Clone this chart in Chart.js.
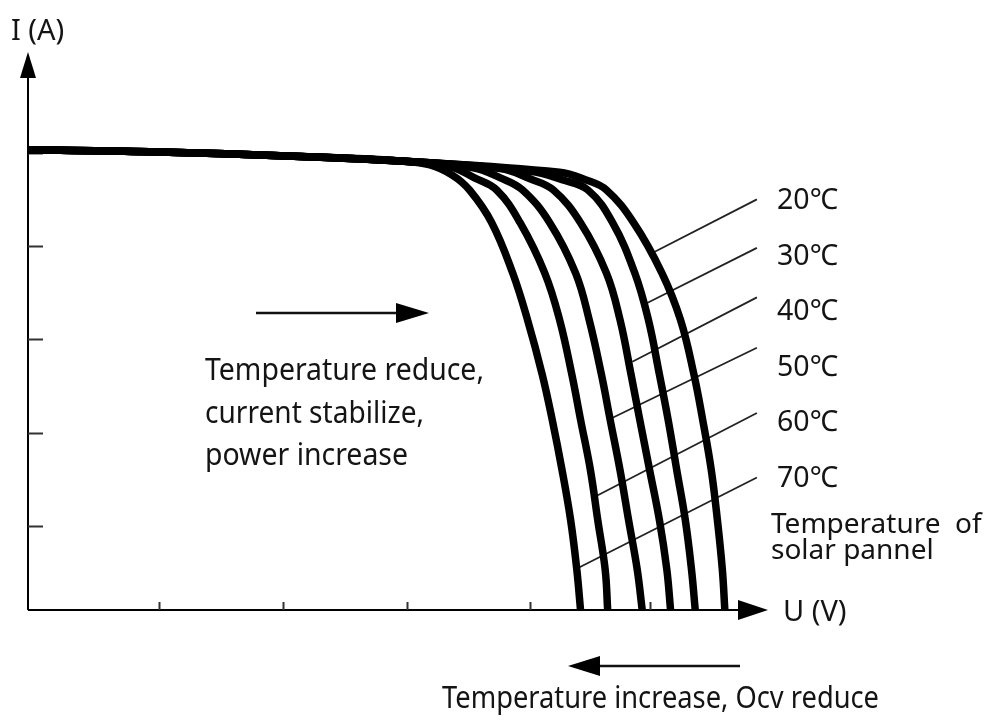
<!DOCTYPE html>
<html lang="en">
<head>
    <meta charset="UTF-8">
    <title>I-V curves vs temperature</title>
    <script src="https://cdn.jsdelivr.net/npm/chart.js"></script>
    <style>
        body { margin: 0; background: #fff; }
        #wrap { width: 992px; height: 721px; position: relative; }
    </style>
</head>
<body>
    <div id="wrap"><canvas id="ivChart"></canvas></div>

    <script>
        // temperatures of the panel, one curve each
        const temps = ['20℃', '30℃', '40℃', '50℃', '60℃', '70℃'];

        // voltage (U) and current (I), per curve
        const u20 = [0, 0.99, 2.21, 3.02, 4.31, 4.52, 4.69, 4.91, 5.14, 5.29, 5.40, 5.47, 5.54, 5.59, 5.63, 5.65];
        const i20 = [4.93, 4.91, 4.86, 4.81, 4.69, 4.61, 4.50, 4.15, 3.61, 3.11, 2.52, 2.04, 1.50, 0.96, 0.43, 0];
        const u30 = [0, 0.99, 2.21, 3.02, 4.07, 4.33, 4.54, 4.74, 4.92, 5.03, 5.12, 5.19, 5.26, 5.33, 5.38, 5.41];
        const i30 = [4.93, 4.91, 4.86, 4.81, 4.70, 4.61, 4.50, 4.15, 3.61, 3.11, 2.52, 2.04, 1.50, 0.96, 0.43, 0];
        const u40 = [0, 0.99, 2.21, 3.02, 3.83, 4.07, 4.26, 4.48, 4.69, 4.80, 4.89, 4.96, 5.04, 5.12, 5.18, 5.21];
        const i40 = [4.93, 4.91, 4.86, 4.81, 4.73, 4.62, 4.50, 4.15, 3.61, 3.11, 2.52, 2.04, 1.50, 0.96, 0.43, 0];
        const u50 = [0, 0.99, 2.21, 3.02, 3.60, 3.83, 4.01, 4.23, 4.44, 4.55, 4.65, 4.72, 4.80, 4.87, 4.94, 4.98];
        const i50 = [4.93, 4.91, 4.86, 4.81, 4.74, 4.63, 4.50, 4.15, 3.61, 3.11, 2.52, 2.04, 1.50, 0.96, 0.43, 0];
        const u60 = [0, 0.99, 2.21, 3.02, 3.42, 3.62, 3.80, 3.99, 4.19, 4.31, 4.41, 4.48, 4.56, 4.62, 4.68, 4.70];
        const i60 = [4.93, 4.91, 4.86, 4.81, 4.75, 4.63, 4.50, 4.15, 3.61, 3.11, 2.52, 2.04, 1.50, 0.96, 0.43, 0];
        const u70 = [0, 0.99, 2.21, 3.02, 3.26, 3.44, 3.58, 3.76, 3.93, 4.05, 4.17, 4.25, 4.33, 4.40, 4.45, 4.48];
        const i70 = [4.93, 4.91, 4.86, 4.81, 4.77, 4.66, 4.50, 4.15, 3.61, 3.11, 2.52, 2.04, 1.50, 0.96, 0.43, 0];

        // leader lines from each label to its curve
        const leadStartU = [5.91, 5.91, 5.91, 5.91, 5.91, 5.91];
        const leadStartI = [4.40, 3.88, 3.35, 2.81, 2.11, 1.42];
        const leadEndU = [5.07, 5.02, 4.90, 4.74, 4.62, 4.46];
        const leadEndI = [3.83, 3.29, 2.66, 2.06, 1.23, 0.45];

        // tick marks on the axes (no labels)
        const uTicks = [1.06, 2.07, 3.07, 4.07, 5.04];
        const iTicks = [0.9, 1.9, 2.9, 3.9, 4.9];

        const curvesU = [u20, u30, u40, u50, u60, u70];
        const curvesI = [i20, i30, i40, i50, i60, i70];

        const datasets = [];
        temps.forEach((t, k) => {
            datasets.push({
                label: t,
                data: curvesU[k].map((u, j) => ({x: u, y: curvesI[k][j]})),
                showLine: true,
                borderColor: '#000',
                borderWidth: 7.5,
                pointRadius: 0,
                tension: 0.4,
                fill: false
            });
        });
        temps.forEach((t, k) => {
            datasets.push({
                label: t + ' leader',
                data: [{x: leadEndU[k], y: leadEndI[k]}, {x: leadStartU[k], y: leadStartI[k]}],
                showLine: true,
                borderColor: '#222',
                borderWidth: 1.8,
                pointRadius: 0,
                fill: false
            });
        });

        const ink = '#141414';
        const FONT = '"Noto Sans", "Open Sans", sans-serif';

        function text(ctx, s, x, y, size, maxW) {
            ctx.font = size + 'px ' + FONT;
            ctx.fillStyle = ink;
            ctx.textAlign = 'left';
            ctx.textBaseline = 'alphabetic';
            ctx.fillText(s, x, y, maxW);
        }

        function arrowHead(ctx, tipX, tipY, dx, dy, len, half) {
            // dx,dy = unit direction the arrow points
            const bx = tipX - dx * len, by = tipY - dy * len;
            ctx.beginPath();
            ctx.moveTo(tipX, tipY);
            ctx.lineTo(bx - dy * half, by + dx * half);
            ctx.lineTo(bx + dy * half, by - dx * half);
            ctx.closePath();
            ctx.fill();
        }

        const overlay = {
            id: 'overlay',
            beforeDatasetsDraw(chart) {
                const ctx = chart.ctx;
                const xs = chart.scales.x, ys = chart.scales.y;
                const x0 = xs.getPixelForValue(0), y0 = ys.getPixelForValue(0);
                ctx.save();
                ctx.strokeStyle = '#000';
                ctx.fillStyle = '#000';
                ctx.lineWidth = 2;
                // axes
                ctx.beginPath();
                ctx.moveTo(x0, y0);
                ctx.lineTo(x0, chart.chartArea.top + 12);
                ctx.moveTo(x0, y0);
                ctx.lineTo(chart.chartArea.right - 20, y0);
                ctx.stroke();
                arrowHead(ctx, x0, chart.chartArea.top + 2, 0, -1, 26, 8);
                arrowHead(ctx, chart.chartArea.right, y0, 1, 0, 30, 10);
                // ticks
                ctx.strokeStyle = '#333';
                ctx.beginPath();
                iTicks.forEach(v => {
                    const p = Math.round(ys.getPixelForValue(v)) + 0.5;
                    ctx.moveTo(x0, p);
                    ctx.lineTo(x0 + 15, p);
                });
                uTicks.forEach(v => {
                    const p = Math.round(xs.getPixelForValue(v)) + 0.5;
                    ctx.moveTo(p, y0);
                    ctx.lineTo(p, y0 - 8);
                });
                ctx.stroke();
                ctx.restore();
            },
            afterDraw(chart) {
                const ctx = chart.ctx;
                ctx.save();
                // axis titles
                text(ctx, 'I (A)', 11, 40, 29, 57);
                text(ctx, 'U (V)', 783, 621, 29, 67);
                // temperature labels
                temps.forEach((t, k) => {
                    text(ctx, t, 777, 209 + k * 55.6, 29, 61);
                });
                text(ctx, 'Temperature  of', 771, 533, 28, 214);
                text(ctx, 'solar pannel', 771, 559, 28, 165);
                // middle note with arrow
                ctx.fillStyle = '#000';
                ctx.strokeStyle = '#111';
                ctx.lineWidth = 2.5;
                ctx.beginPath();
                ctx.moveTo(256, 313);
                ctx.lineTo(400, 313);
                ctx.stroke();
                arrowHead(ctx, 429, 313, 1, 0, 33, 10);
                text(ctx, 'Temperature reduce,', 205, 380, 30, 279);
                text(ctx, 'current stabilize,', 205, 423, 30, 219);
                text(ctx, 'power increase', 205, 465, 30, 203);
                // bottom note with arrow
                ctx.fillStyle = '#000';
                ctx.strokeStyle = '#111';
                ctx.lineWidth = 2.5;
                ctx.beginPath();
                ctx.moveTo(740, 666);
                ctx.lineTo(595, 666);
                ctx.stroke();
                arrowHead(ctx, 568, 666, -1, 0, 32, 10);
                text(ctx, 'Temperature increase, Ocv reduce', 442, 708, 30, 437);
                ctx.restore();
            }
        };

        new Chart(document.getElementById('ivChart'), {
            type: 'scatter',
            data: { datasets },
            options: {
                responsive: true,
                maintainAspectRatio: false,
                animation: false,
                layout: { padding: { left: 28, right: 224, top: 50, bottom: 111 } },
                plugins: { legend: { display: false }, tooltip: { enabled: false } },
                scales: {
                    x: { type: 'linear', min: 0, max: 6, display: false },
                    y: { type: 'linear', min: 0, max: 6, display: false }
                }
            },
            plugins: [overlay]
        });
    </script>
</body>
</html>
